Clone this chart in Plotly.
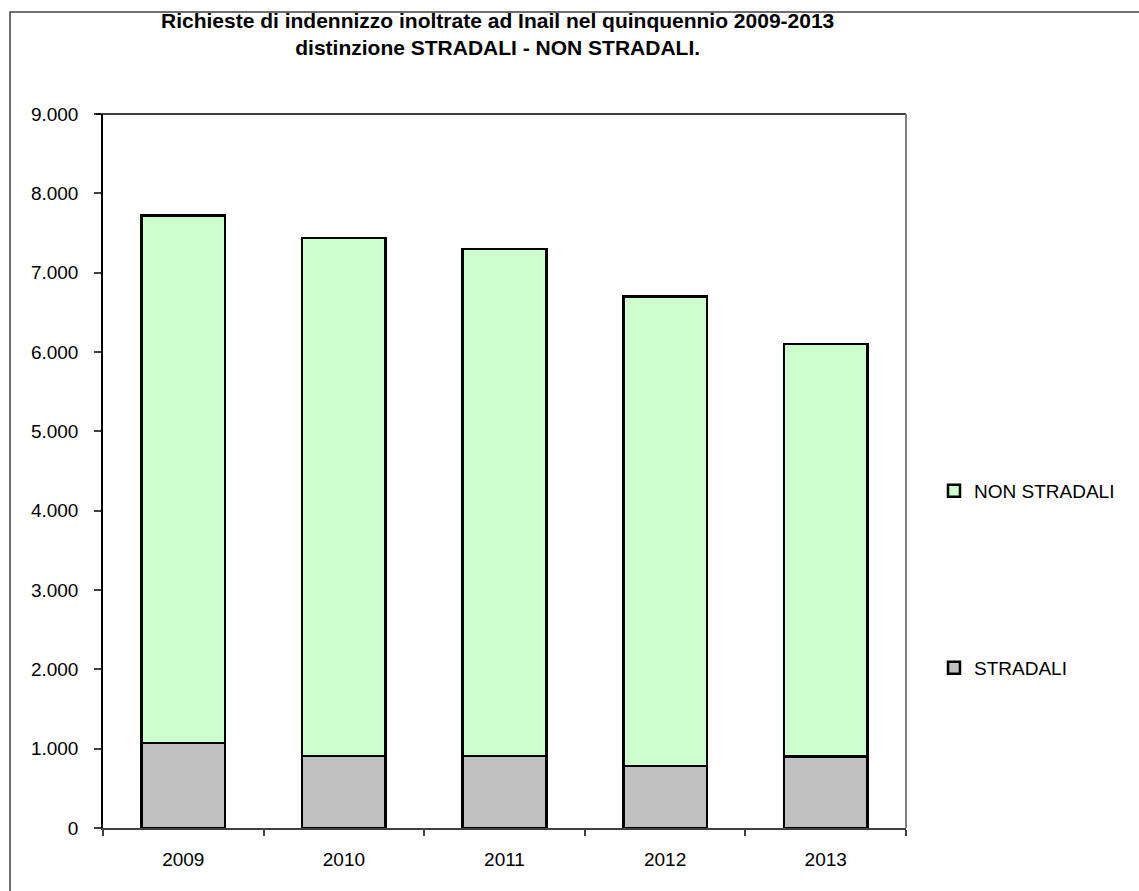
import plotly.graph_objects as go

years = ["2009", "2010", "2011", "2012", "2013"]
stradali = [1070, 910, 910, 780, 900]
non_stradali = [6650, 6530, 6390, 5920, 5200]
y_ticks = [0, 1000, 2000, 3000, 4000, 5000, 6000, 7000, 8000, 9000]

W, H = 1139, 891
L, R, T, B = 103, 906, 114, 828
pw, ph = R - L, B - T

def px_x(x):
    return (x - L) / pw

def px_y(y):
    return (B - y) / ph

font = "Liberation Sans, Arial, sans-serif"
fs = 19

fig = go.Figure()
fig.add_trace(go.Bar(
    x=years, y=stradali, name="STRADALI",
    marker=dict(color="#c0c0c0", line=dict(color="black", width=2.5)),
    width=0.52, legend="legend2",
))
fig.add_trace(go.Bar(
    x=years, y=non_stradali, name="NON STRADALI",
    marker=dict(color="#ccffcc", line=dict(color="black", width=2.5)),
    width=0.52, legend="legend",
))

fig.update_layout(
    width=W, height=H,
    barmode="stack",
    separators=",.",
    paper_bgcolor="white", plot_bgcolor="white",
    margin=dict(l=L, r=W - R, t=T, b=H - B, autoexpand=False),
    font=dict(family=font, size=fs, color="black"),
    showlegend=True,
    legend=dict(
        x=px_x(934), y=px_y(491), xanchor="left", yanchor="middle",
        font=dict(family=font, size=fs, color="black"),
        bgcolor="rgba(0,0,0,0)", itemwidth=30,
    ),
    legend2=dict(
        x=px_x(934), y=px_y(668), xanchor="left", yanchor="middle",
        font=dict(family=font, size=fs, color="black"),
        bgcolor="rgba(0,0,0,0)", itemwidth=30,
    ),
    bargap=0.48,
)

fig.add_annotation(
    text="<b>Richieste di indennizzo inoltrate ad Inail nel quinquennio 2009-2013<br>distinzione STRADALI - NON STRADALI.</b>",
    xref="paper", yref="paper", x=px_x(497), y=px_y(34),
    xanchor="center", yanchor="middle", showarrow=False, align="center",
    font=dict(family=font, size=21, color="black"),
)

fig.update_yaxes(
    range=[0, 9000], tickvals=y_ticks, tickformat=",d",
    showgrid=False, zeroline=False,
    showline=True, linecolor="black", linewidth=1.5,
    ticks="outside", ticklen=7, tickcolor="#404040", tickwidth=1.5,
    ticklabelstandoff=12,
    tickfont=dict(family=font, size=fs, color="black"),
)
fig.update_xaxes(
    showgrid=False, zeroline=False,
    showline=True, linecolor="#404040", linewidth=2,
    ticks="outside", ticklen=6, tickcolor="#404040", tickwidth=1.5,
    tickson="boundaries",
    ticklabelstandoff=13,
    tickfont=dict(family=font, size=fs, color="black"),
)

shapes = [
    dict(type="line", xref="paper", yref="paper", x0=px_x(96), x1=1, y0=1, y1=1,
         line=dict(color="black", width=1.5)),
    dict(type="line", xref="paper", yref="paper", x0=1, x1=1, y0=0, y1=1,
         line=dict(color="#808080", width=2)),
    dict(type="rect", xref="paper", yref="paper",
         x0=px_x(10), x1=px_x(1150), y0=px_y(900), y1=px_y(12),
         line=dict(color="#404040", width=1.5), layer="below"),
]
fig.update_layout(shapes=shapes)

fig.write_html("out.html")
